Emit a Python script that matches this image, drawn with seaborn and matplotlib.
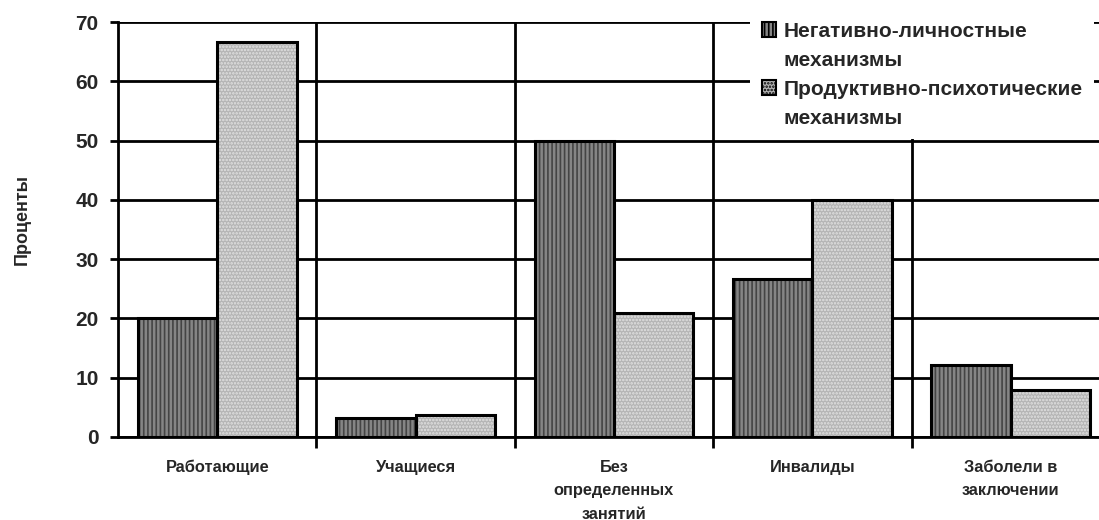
import pandas as pd
import matplotlib
matplotlib.use('Agg')
import matplotlib.pyplot as plt
import seaborn as sns
from matplotlib.patches import Patch, Rectangle

categories = ['Работающие', 'Учащиеся', 'Без\nопределенных\nзанятий', 'Инвалиды', 'Заболели в\nзаключении']
negative = [20, 3.2, 50, 26.7, 12.1]
productive = [66.7, 3.7, 20.9, 40, 8]
series = ['Негативно-личностные\nмеханизмы', 'Продуктивно-психотические\nмеханизмы']
y_ticks = [0, 10, 20, 30, 40, 50, 60, 70]

df = pd.DataFrame({
    'cat': categories * 2,
    'val': negative + productive,
    'series': [series[0]] * len(categories) + [series[1]] * len(categories),
})

sns.set_style('white')
plt.rcParams['font.family'] = ['Liberation Sans', 'DejaVu Sans']
plt.rcParams['font.weight'] = 'bold'
plt.rcParams['hatch.linewidth'] = 1.2

# face colour, hatch colour, hatch pattern for each series
looks = [('#858585', '#444444', '||||'), ('#b4b4b4', '#e2e2e2', '.....')]

fig = plt.figure(figsize=(10.99, 5.2), dpi=100)
ax = fig.add_axes([118 / 1099, 1 - 437 / 520, (1110 - 118) / 1099, (437 - 22) / 520])

sns.barplot(data=df, x='cat', y='val', hue='series', palette=[l[0] for l in looks],
            width=0.8, gap=0, saturation=1, legend=False, ax=ax)

n = len(categories)
for i, bar in enumerate(ax.patches[:2 * n]):
    face, hc, hatch = looks[i // n]
    bar.set_facecolor(face)
    bar.set_edgecolor(hc)
    bar.set_hatch(hatch)
    bar.set_linewidth(0)
    bar.set_zorder(2)
    ax.add_patch(Rectangle(bar.get_xy(), bar.get_width(), bar.get_height(),
                           fill=False, edgecolor='black', lw=2.2, zorder=3))

ax.set_ylim(0, 70)
ax.set_xlim(-0.5, n - 0.5)
ax.set_yticks(y_ticks)
ax.set_axisbelow(True)
ax.yaxis.grid(True, color='black', lw=2)
ax.set_xticks([i + 0.5 for i in range(n - 1)], minor=True)
ax.xaxis.grid(True, which='minor', color='black', lw=2)
ax.xaxis.grid(False, which='major')

for s in ['top', 'right']:
    ax.spines[s].set_visible(False)
for s in ['left', 'bottom']:
    ax.spines[s].set_color('black')
    ax.spines[s].set_linewidth(2)

ax.tick_params(axis='y', left=True, length=6, width=2, color='black', labelsize=15, pad=8)
ax.tick_params(axis='x', which='major', bottom=False, labelsize=11.8, pad=13)
ax.tick_params(axis='x', which='minor', bottom=True, length=8, width=2, color='black')
for lab in ax.get_xticklabels():
    lab.set_linespacing(1.7)

ax.set_xlabel('')
ax.set_ylabel('Проценты', fontsize=13, fontweight='bold')
ax.yaxis.set_label_coords(-0.088, 0.523)

# legend: each series name on two rows, the marker only on the first row
blank = Patch(facecolor='none', edgecolor='none')
handles, labels = [], []
for l, name in zip(looks, series):
    first, second = name.split('\n')
    handles += [Patch(facecolor=l[0], edgecolor='black', hatch=l[2], lw=1.5), blank]
    labels += [first, second]
leg = fig.legend(handles, labels, loc='upper left', bbox_to_anchor=(740 / 1099, 1 - 0 / 520),
                 frameon=True, facecolor='white', edgecolor='none', fancybox=False, framealpha=1,
                 fontsize=15, handlelength=0.7, handleheight=0.7, handletextpad=0.35,
                 labelspacing=0.48, borderpad=0.55)

fig.savefig('out.png', dpi=100)
